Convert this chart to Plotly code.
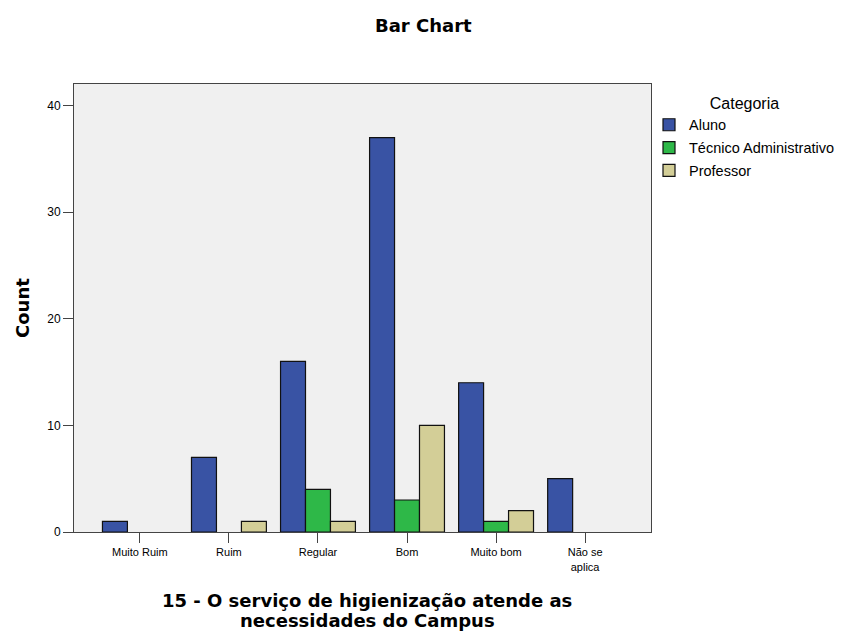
import plotly.graph_objects as go

categories = ["Muito Ruim", "Ruim", "Regular", "Bom", "Muito bom", "Não se<br>aplica"]
aluno = [1, 7, 16, 37, 14, 5]
tecnico = [0, 0, 4, 3, 1, 0]
professor = [0, 1, 1, 10, 2, 0]

series = [
    ("Aluno", aluno, "#3953A4"),
    ("Técnico Administrativo", tecnico, "#2EB848"),
    ("Professor", professor, "#D3CE97"),
]

FONT = "Liberation Sans, Arial, sans-serif"
TFONT = "DejaVu Sans, Verdana, sans-serif"
OFF = 8  # page body margin
# plot area in screen pixels (from reference)
PL, PT, PR, PB = 74, 84, 651, 532
W, H = 844, 637
ml, mt = PL - OFF, PT - OFF
mr, mb = W - (PR - OFF), H - (PB - OFF)
pw, ph = PR - PL, PB - PT


def px(sx):
    return (sx - PL) / pw


def py(sy):
    return (PB - sy) / ph


fig = go.Figure()
for i, (name, vals, color) in enumerate(series):
    fig.add_trace(go.Bar(
        x=categories, y=[v if v else None for v in vals], name=name,
        legendgroup=name,
        marker=dict(color=color, line=dict(color="#111111", width=1.2)),
    ))

fig.update_layout(
    width=W, height=H,
    margin=dict(l=ml, r=mr, t=mt, b=mb),
    paper_bgcolor="white", plot_bgcolor="#F0F0F0",
    barmode="group", bargap=0.159, bargroupgap=0,
    font=dict(family=FONT, size=11, color="#000000"),
    showlegend=True,
    legend=dict(
        title=dict(text="Categoria", side="top center", font=dict(size=16, family=FONT)),
        x=px(649), xanchor="left", y=py(88), yanchor="top",
        font=dict(size=14.5, family=FONT),
        bgcolor="rgba(0,0,0,0)", tracegroupgap=1, traceorder="grouped",
    ),
    annotations=[
        dict(text="<b>Bar Chart</b>", x=px(423), y=py(25.5), xref="paper", yref="paper",
             xanchor="center", yanchor="middle", showarrow=False,
             font=dict(size=18, family=TFONT)),
        dict(text="<b>15 - O serviço de higienização atende as</b>",
             x=px(367), y=py(600), xref="paper", yref="paper",
             xanchor="center", yanchor="middle", showarrow=False,
             font=dict(size=18, family=TFONT)),
        dict(text="<b>necessidades do Campus</b>",
             x=px(367), y=py(620), xref="paper", yref="paper",
             xanchor="center", yanchor="middle", showarrow=False,
             font=dict(size=18, family=TFONT)),
        dict(text="<b>Count</b>", x=px(22), y=py(308), xref="paper", yref="paper",
             xanchor="center", yanchor="middle", showarrow=False, textangle=-90,
             font=dict(size=18, family=TFONT)),
    ],
)
fig.update_xaxes(
    type="category", range=[-0.74, 5.74],
    showgrid=False, zeroline=False,
    showline=True, linecolor="#444444", linewidth=1, mirror=True,
    ticks="outside", ticklen=10, tickcolor="#444444", tickwidth=1,
    tickfont=dict(size=11, family=FONT),
)
fig.update_yaxes(
    range=[0, 42.03], tickvals=[0, 10, 20, 30, 40],
    showgrid=False, zeroline=False,
    showline=True, linecolor="#444444", linewidth=1, mirror=True,
    ticks="outside", ticklen=10, tickcolor="#444444", tickwidth=1,
    tickfont=dict(size=12, family=FONT),
)

fig.write_html("out.html")
